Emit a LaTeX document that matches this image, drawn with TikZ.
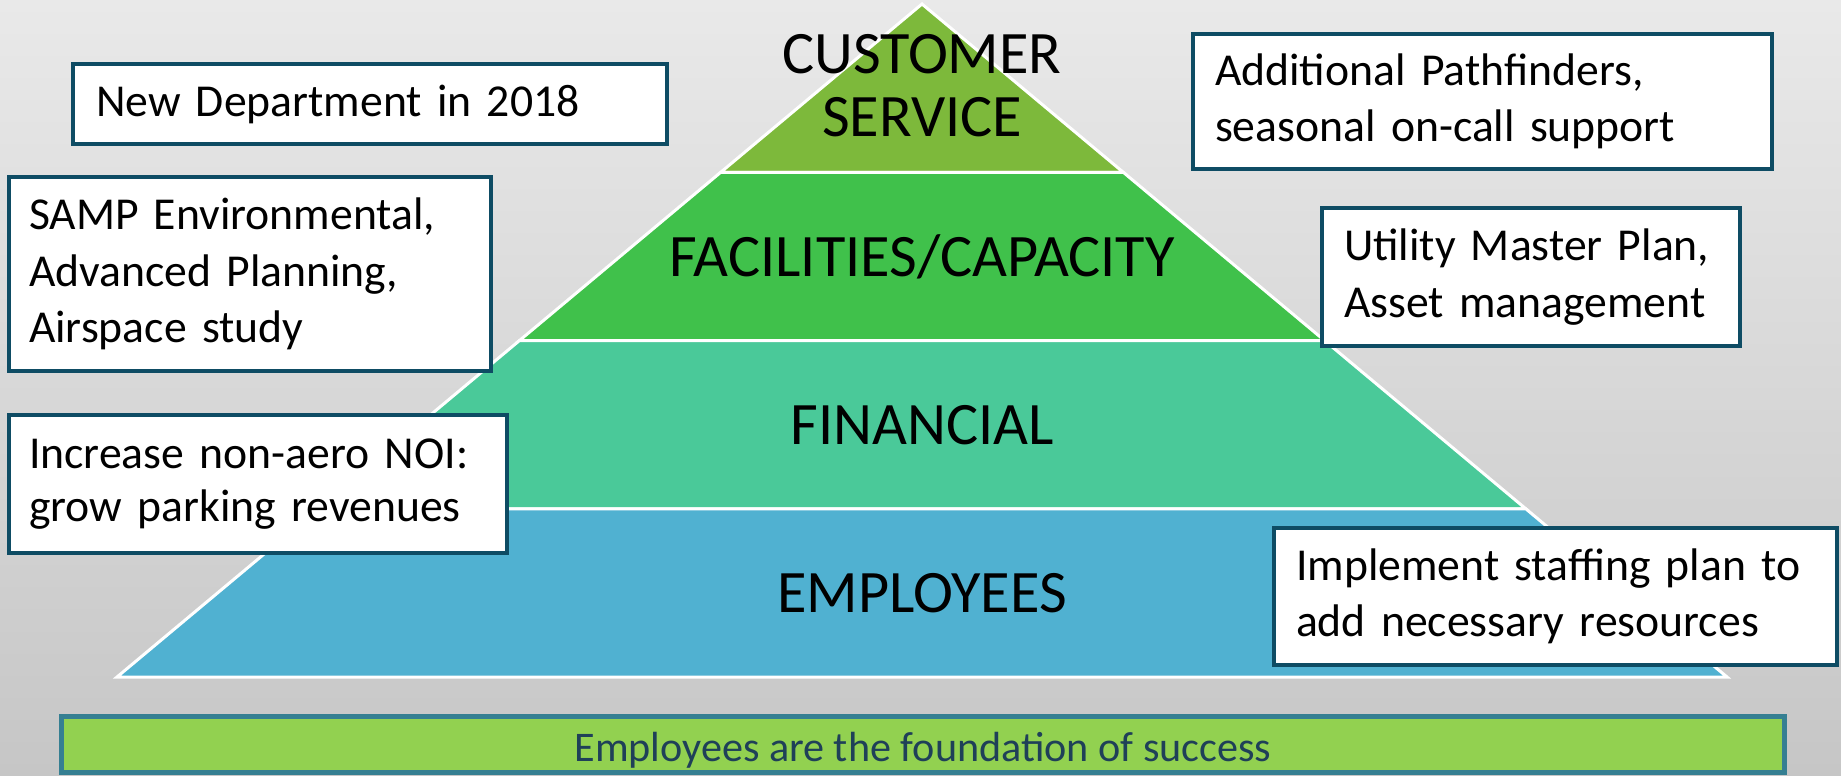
\documentclass[tikz,border=0pt]{standalone}
\usepackage{fontspec}
\setmainfont{Carlito}
\usetikzlibrary{positioning, calc}
\definecolor{bgtop}{HTML}{E9E9E9}
\definecolor{bgbot}{HTML}{C6C6C6}
\definecolor{tiercs}{HTML}{7DB93B}
\definecolor{tierfac}{HTML}{40C14B}
\definecolor{tierfin}{HTML}{4AC999}
\definecolor{tieremp}{HTML}{50B1D1}
\definecolor{boxline}{HTML}{0E4C64}
\definecolor{barfill}{HTML}{92D150}
\definecolor{barline}{HTML}{357F92}
\definecolor{bartext}{HTML}{1F4058}

\begin{document}
\begin{tikzpicture}[x=0.02cm, y=-0.02cm,
      tier/.style={draw=white, line width=0.06cm, line join=miter},
      lbl/.style={font=\fontsize{34.3}{37}\selectfont, align=center, inner sep=0pt},
      note/.style={draw=boxline, fill=white, line width=0.08cm, font=\fontsize{26}{32}\selectfont, align=left, inner ysep=0pt}]
    \useasboundingbox (0,0) rectangle (1841,775);
    \fill[top color=bgtop, bottom color=bgbot] (0,0) rectangle (1841,775);

    % pyramid, four tiers of equal height
    \coordinate (apex) at (922,4);
    \coordinate (bl) at (117,677);
    \coordinate (br) at (1727,677);
    \coordinate (l1) at ($(apex)!0.25!(bl)$); \coordinate (r1) at ($(apex)!0.25!(br)$);
    \coordinate (l2) at ($(apex)!0.5!(bl)$);  \coordinate (r2) at ($(apex)!0.5!(br)$);
    \coordinate (l3) at ($(apex)!0.75!(bl)$); \coordinate (r3) at ($(apex)!0.75!(br)$);
    \filldraw[tier, fill=tiercs] (apex) -- (r1) -- (l1) -- cycle;
    \filldraw[tier, fill=tierfac] (l1) -- (r1) -- (r2) -- (l2) -- cycle;
    \filldraw[tier, fill=tierfin] (l2) -- (r2) -- (r3) -- (l3) -- cycle;
    \filldraw[tier, fill=tieremp] (l3) -- (r3) -- (br) -- (bl) -- cycle;

    \node[lbl] (cs) at (922,86) {CUSTOMER\\[-1pt]SERVICE};
    \node[lbl, anchor=base] (fac) at (922,276) {FACILITIES/CAPACITY};
    \node[lbl, anchor=base] (fin) at (922,444) {FINANCIAL};
    \node[lbl, anchor=base] (emp) at (922,612) {EMPLOYEES};

    % side notes
    \node[note, text width=10.96cm, inner xsep=0.46cm, minimum height=1.62cm] (dept) at (370,104) {New Department in 2018};
    \node[note, text width=8.84cm, inner xsep=0.4cm, minimum height=3.9cm] (samp) at (250,274) {SAMP Environmental,\\Advanced Planning,\\Airspace study};
    \node[note, text width=9.16cm, inner xsep=0.4cm, minimum height=2.76cm, font=\fontsize{26}{30}\selectfont] (noi) at (258,484) {Increase non-aero NOI:\\grow parking revenues};
    \node[note, text width=10.7cm, inner xsep=0.44cm, minimum height=2.72cm] (path) at (1482.5,101.5) {Additional Pathfinders,\\seasonal on-call support};
    \node[note, text width=7.48cm, inner xsep=0.44cm, minimum height=2.76cm] (ump) at (1531,277) {Utility Master Plan,\\Asset management};
    \node[note, text width=10.38cm, inner xsep=0.44cm, minimum height=2.74cm] (staff) at (1555.5,596.5) {Implement staffing plan to\\add necessary resources};

    % foundation bar
    \filldraw[fill=barfill, draw=barline, line width=0.1cm] (61,716) rectangle (1784,772);
    \node[anchor=base, inner sep=0pt, text=bartext, font=\fontsize{24}{28}\selectfont] (base) at (923,761) {Employees are the foundation of success};
  \end{tikzpicture}
\end{document}
